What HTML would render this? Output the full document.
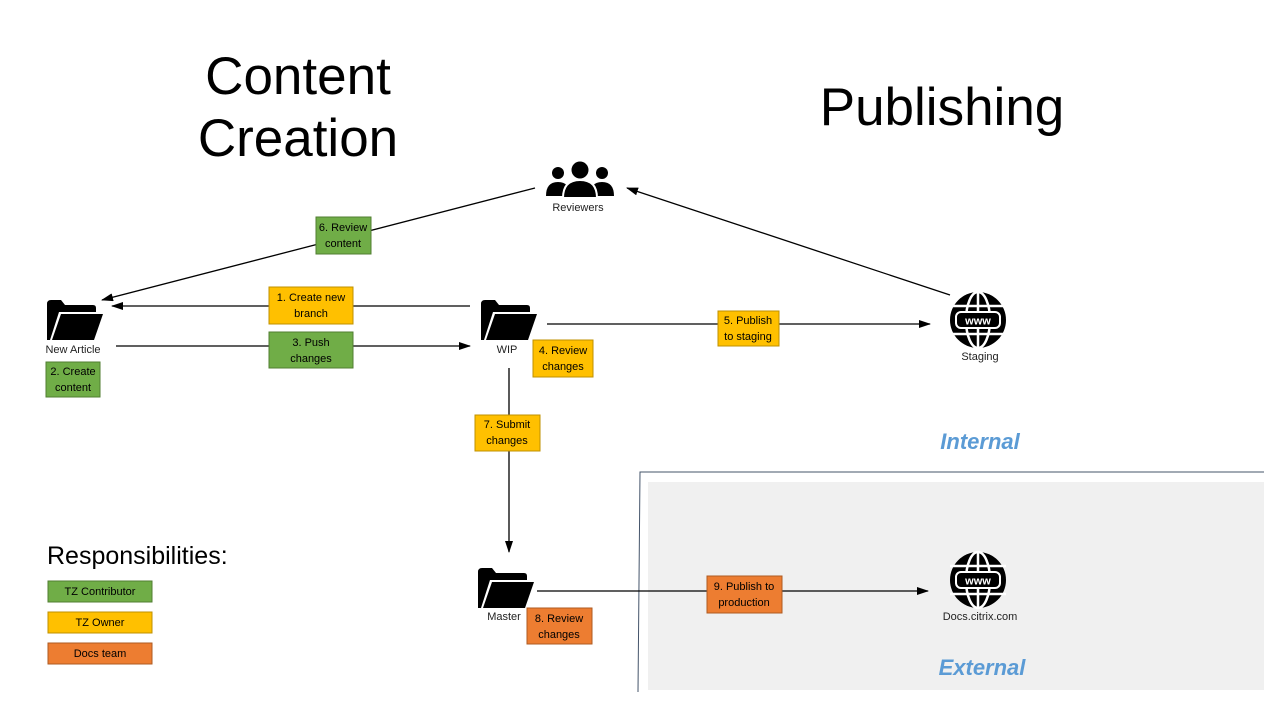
<!DOCTYPE html>
<html><head><meta charset="utf-8"><style>
body{margin:0;background:#fff}
svg{display:block}
text{font-family:"Liberation Sans",sans-serif}
</style></head><body>
<svg width="1280" height="720" viewBox="0 0 1280 720" xmlns="http://www.w3.org/2000/svg">
<defs>
<marker id="a" markerWidth="12" markerHeight="8" refX="11" refY="4" orient="auto" markerUnits="userSpaceOnUse"><path d="M0,0 L12,4 L0,8 z" fill="#000"/></marker>
<g id="folder"><path d="M0,4 Q0,0 4,0 L14,0 L18,5 L46,5 Q49,5 49,8 L49,12 L12,12 L3,40 L0,40 z" fill="#000"/><path d="M14,14 L56,14 L47,40 L5,40 z" fill="#000"/></g>
<g id="globe"><circle r="28" fill="#000"/><g fill="none" stroke="#fff" stroke-width="2.5"><ellipse rx="12" ry="28"/><line x1="0" y1="-28" x2="0" y2="28"/><line x1="-28" y1="-14" x2="28" y2="-14"/><line x1="-28" y1="14" x2="28" y2="14"/></g><rect x="-22" y="-8" width="44" height="16" rx="5" fill="#000" stroke="#fff" stroke-width="2"/><text x="0" y="4.5" font-size="11" font-weight="bold" fill="#fff" text-anchor="middle">www</text></g>
</defs>
<rect x="648" y="482" width="616" height="208" fill="#f0f0f0"/>
<path d="M638,692 L640,472 L1264,472" fill="none" stroke="#44546a" stroke-width="1"/>
<text x="298" y="94" font-size="53" text-anchor="middle">Content</text>
<text x="298" y="156" font-size="53" text-anchor="middle">Creation</text>
<text x="942" y="125" font-size="53" text-anchor="middle">Publishing</text>
<text x="980" y="449" font-size="22" font-weight="bold" font-style="italic" fill="#5b9bd5" text-anchor="middle">Internal</text>
<text x="982" y="675" font-size="22" font-weight="bold" font-style="italic" fill="#5b9bd5" text-anchor="middle">External</text>
<g stroke="#000" stroke-width="1.3" fill="none">
<line x1="535" y1="188" x2="102" y2="300" marker-end="url(#a)"/>
<line x1="470" y1="306" x2="112" y2="306" marker-end="url(#a)"/>
<line x1="116" y1="346" x2="470" y2="346" marker-end="url(#a)"/>
<line x1="547" y1="324" x2="930" y2="324" marker-end="url(#a)"/>
<line x1="950" y1="295" x2="627" y2="188" marker-end="url(#a)"/>
<line x1="509" y1="368" x2="509" y2="552" marker-end="url(#a)"/>
<line x1="537" y1="591" x2="928" y2="591" marker-end="url(#a)"/>
</g>
<use href="#folder" x="47" y="300"/>
<use href="#folder" x="481" y="300"/>
<use href="#folder" x="478" y="568"/>
<g fill="#000"><circle cx="558" cy="173" r="6"/><circle cx="602" cy="173" r="6"/><path d="M546,196 Q546,182 558,182 Q570,182 570,196z"/><path d="M590,196 Q590,182 602,182 Q614,182 614,196z"/><circle cx="580" cy="170" r="8.5"/><path d="M563,198 Q563,180 580,180 Q597,180 597,198z" stroke="#fff" stroke-width="2"/></g>
<use href="#globe" x="978" y="320"/>
<use href="#globe" x="978" y="580"/>
<g font-size="11" text-anchor="middle" fill="#222">
<text x="73" y="353">New Article</text>
<text x="507" y="353">WIP</text>
<text x="504" y="620">Master</text>
<text x="578" y="211">Reviewers</text>
<text x="980" y="360">Staging</text>
<text x="980" y="620">Docs.citrix.com</text>
</g>
<g font-size="11" text-anchor="middle" fill="#000">
<rect x="269" y="287" width="84" height="37" fill="#ffc000" stroke="#bf9000"/><text x="311" y="301">1. Create new</text><text x="311" y="317">branch</text>
<rect x="269" y="332" width="84" height="36" fill="#70ad47" stroke="#507e32"/><text x="311" y="346">3. Push</text><text x="311" y="362">changes</text>
<rect x="316" y="217" width="55" height="37" fill="#70ad47" stroke="#507e32"/><text x="343" y="231">6. Review</text><text x="343" y="247">content</text>
<rect x="46" y="362" width="54" height="35" fill="#70ad47" stroke="#507e32"/><text x="73" y="375">2. Create</text><text x="73" y="391">content</text>
<rect x="533" y="340" width="60" height="37" fill="#ffc000" stroke="#bf9000"/><text x="563" y="354">4. Review</text><text x="563" y="370">changes</text>
<rect x="718" y="311" width="61" height="35" fill="#ffc000" stroke="#bf9000"/><text x="748" y="324">5. Publish</text><text x="748" y="340">to staging</text>
<rect x="475" y="415" width="65" height="36" fill="#ffc000" stroke="#bf9000"/><text x="507" y="428">7. Submit</text><text x="507" y="444">changes</text>
<rect x="527" y="608" width="65" height="36" fill="#ed7d31" stroke="#ae5a21"/><text x="559" y="622">8. Review</text><text x="559" y="638">changes</text>
<rect x="707" y="576" width="75" height="37" fill="#ed7d31" stroke="#ae5a21"/><text x="744" y="590">9. Publish to</text><text x="744" y="606">production</text>
<rect x="48" y="581" width="104" height="21" fill="#70ad47" stroke="#507e32"/><text x="100" y="595">TZ Contributor</text>
<rect x="48" y="612" width="104" height="21" fill="#ffc000" stroke="#bf9000"/><text x="100" y="626">TZ Owner</text>
<rect x="48" y="643" width="104" height="21" fill="#ed7d31" stroke="#ae5a21"/><text x="100" y="657">Docs team</text>
</g>
<text x="47" y="564" font-size="25">Responsibilities:</text>
</svg>
</body></html>
